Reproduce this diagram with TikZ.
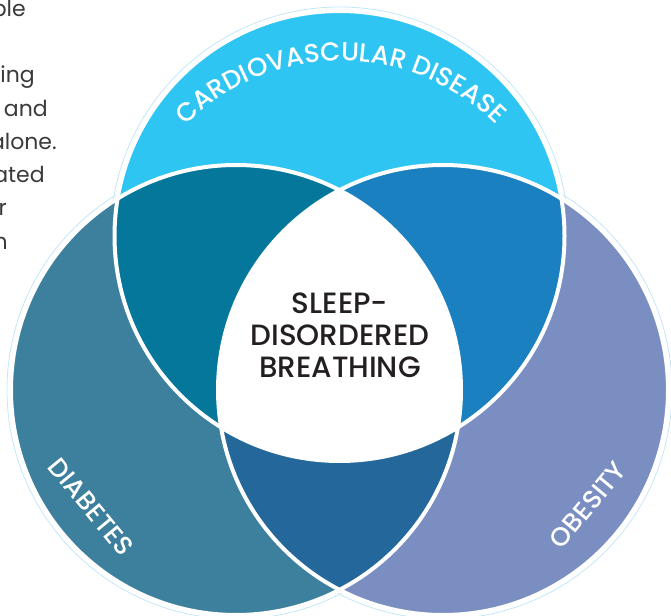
\documentclass[tikz,border=0pt]{standalone}
\usepackage{fontspec}
\setmainfont{Poppins}
\newfontfamily\medfont{Poppins Medium}
\usetikzlibrary{decorations.text}

\definecolor{cardio}{HTML}{2EC5F3}
\definecolor{diab}{HTML}{3C809E}
\definecolor{obes}{HTML}{7A8EC1}
\definecolor{cardiodiab}{HTML}{05779B}
\definecolor{cardioobes}{HTML}{1B80BF}
\definecolor{diabobes}{HTML}{23679B}
\definecolor{halo}{HTML}{C4E7F7}
\definecolor{bodytext}{HTML}{3A3A3A}
\definecolor{centertext}{HTML}{231F20}

\begin{document}
\begin{tikzpicture}[
x=0.75pt, y=0.75pt,
halo/.style={draw=halo, line width=0.6pt},
rim/.style={draw=white, line width=3pt},
label/.style={text=white, inner sep=0pt, font=\medfont\fontsize{19.5}{22}\selectfont},
body/.style={anchor=base east, inner sep=0pt, text=bodytext, font=\fontsize{16.5}{20}\selectfont}
]
\useasboundingbox (0,0) rectangle (671,615);
\clip (0,0) rectangle (671,615);

% circle centres
\coordinate (cvd) at (339.5,379);
\coordinate (dm) at (236,225);
\coordinate (ob) at (443,225);
\coordinate (cvdarc) at (341,334);

% cut-off paragraph at the left
\foreach \frag/\xe/\yb [count=\i] in {ble/26/598, ing/35/532, and/48/498, alone./57/465, ated/45/432, r/7/399, h/8/365}
  \node[body] (frag\i) at (\xe,\yb) {\frag};

% circles
\foreach \c in {cvd, dm, ob}
  \draw[halo] (\c) circle[radius=229];
\fill[cardio] (cvd) circle[radius=225];
\fill[diab] (dm) circle[radius=225];
\fill[obes] (ob) circle[radius=225];
\begin{scope}
  \clip (cvd) circle[radius=225];
  \fill[cardiodiab] (dm) circle[radius=225];
  \fill[cardioobes] (ob) circle[radius=225];
\end{scope}
\begin{scope}
  \clip (dm) circle[radius=225];
  \fill[diabobes] (ob) circle[radius=225];
  \clip (ob) circle[radius=225];
  \fill[white] (cvd) circle[radius=225];
\end{scope}
\foreach \c in {cvd, dm, ob}
  \draw[rim] (\c) circle[radius=225];

% labels
\path[decorate, decoration={text along path, text align=center, text color=white,
  text={|\medfont\fontsize{19.5}{22}\selectfont|CARDIOVASCULAR DISEASE}}]
  ([shift={(150:220)}]cvdarc) arc[start angle=150, end angle=30, radius=220];
\node[label, rotate=-50.5] (diabetes) at (91,108) {DIABETES};
\node[label, rotate=50.3] (obesity) at (588,110) {OBESITY};
\node[align=center, text=centertext, font=\medfont\fontsize{22}{24}\selectfont] (sdb) at (340,280)
  {SLEEP-\\DISORDERED\\BREATHING};
\end{tikzpicture}
\end{document}
